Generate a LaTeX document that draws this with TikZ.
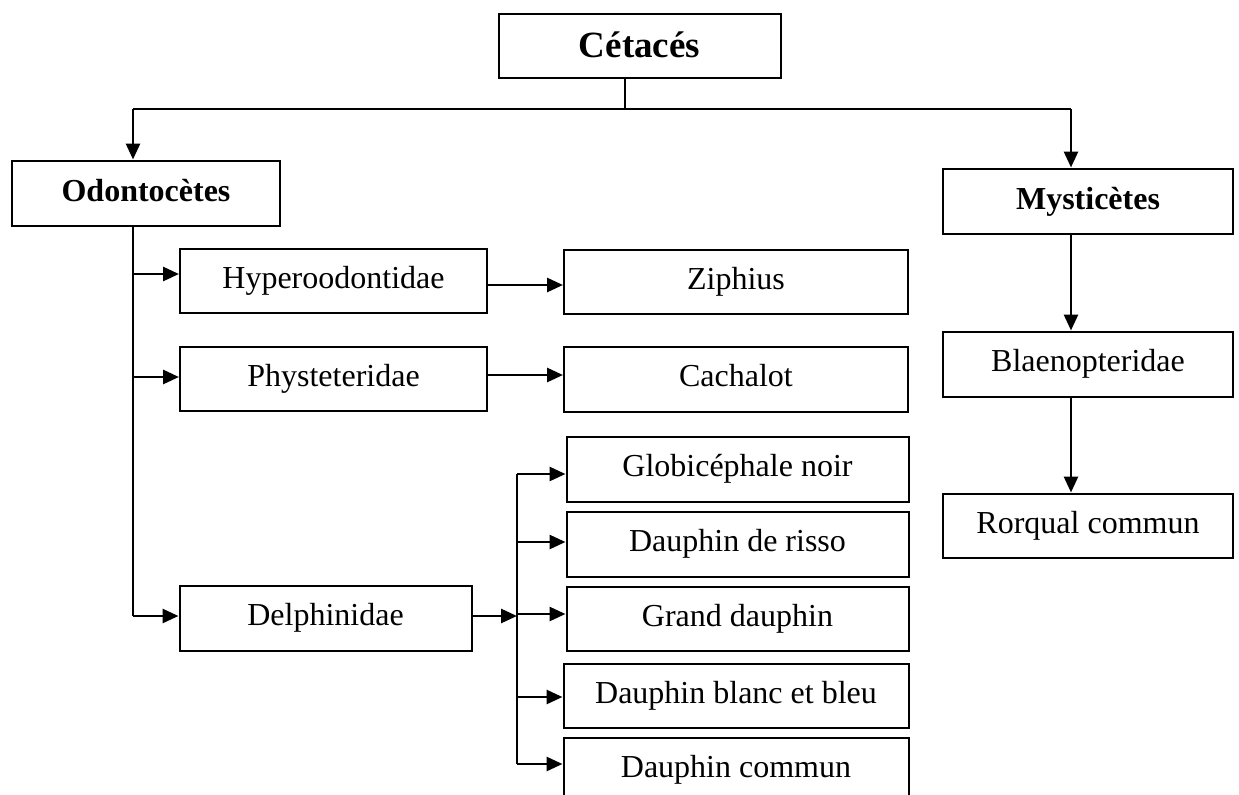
\documentclass[tikz,border=0pt]{standalone}
\usepackage{fontspec}
\setmainfont{Liberation Serif}
\usetikzlibrary{arrows.meta}
\begin{document}
\begin{tikzpicture}[x=0.5pt,y=-0.5pt,
  box/.style={draw, line width=1pt, inner sep=0pt, text height=10pt, text depth=2.5pt, font=\fontsize{16}{19}\selectfont},
  arr/.style={line width=1.4pt, -{Triangle[length=8pt,width=7pt]}},
  ln/.style={line width=1.4pt}]
\clip (0,0) rectangle (1239,794);
\fill[white] (0,0) rectangle (1239,794);
% boxes
\node[box, minimum width=141pt, minimum height=32pt, text height=13pt, text depth=1.5pt, font=\fontsize{18.5}{22}\selectfont\bfseries] (cet) at (639.5,45.5) {Cétacés};
\node[box, minimum width=134pt, minimum height=32.5pt, text height=10.5pt, text depth=2.5pt, font=\fontsize{16}{19}\selectfont\bfseries] (odo) at (146,193) {Odontocètes};
\node[box, minimum width=145pt, minimum height=32.5pt, text height=10.5pt, text depth=2.5pt, font=\fontsize{16}{19}\selectfont\bfseries] (mys) at (1088,201) {Mysticètes};
\node[box, minimum width=153.5pt, minimum height=32pt] (hyp) at (333.5,280.5) {Hyperoodontidae};
\node[box, minimum width=153.5pt, minimum height=32pt] (phy) at (333.5,378.5) {Physteteridae};
\node[box, minimum width=146pt, minimum height=32.5pt] (del) at (325.5,618) {Delphinidae};
\node[box, minimum width=172pt, minimum height=32pt] (zip) at (736,281.5) {Ziphius};
\node[box, minimum width=172pt, minimum height=32.5pt] (cac) at (736,379) {Cachalot};
\node[box, minimum width=171pt, minimum height=32.5pt] (glo) at (737.5,469) {Globicéphale noir};
\node[box, minimum width=171pt, minimum height=32.5pt] (ris) at (737.5,544) {Dauphin de risso};
\node[box, minimum width=171pt, minimum height=32pt] (gra) at (737.5,618.5) {Grand dauphin};
\node[box, minimum width=172.5pt, minimum height=32pt] (bb) at (736,695.5) {Dauphin blanc et bleu};
\node[box, minimum width=172.5pt, minimum height=32pt] (com) at (736,769.5) {Dauphin commun};
\node[box, minimum width=145pt, minimum height=32.5pt] (bla) at (1088,364) {Blaenopteridae};
\node[box, minimum width=145pt, minimum height=32pt] (ror) at (1088,525.5) {Rorqual commun};
% junction coordinates
\coordinate (jc) at (625,109);
\coordinate (jl) at (133,109);
\coordinate (jr) at (1071,109);
\coordinate (a1) at (133,274);
\coordinate (a2) at (133,377);
\coordinate (a3) at (133,616);
\coordinate (b1) at (488,285);
\coordinate (b2) at (488,375);
\coordinate (br) at (517,616);
\coordinate (c1) at (517,474);
\coordinate (c2) at (517,542);
\coordinate (c3) at (517,614);
\coordinate (c4) at (517,697);
\coordinate (c5) at (517,764);
% top level
\draw[ln] (jc |- cet.south) -- (jc);
\draw[ln] (jl) -- (jr);
\draw[arr] (jl) -- (jl |- odo.north);
\draw[arr] (jr) -- (jr |- mys.north);
% odontocetes trunk
\draw[ln] (odo.south -| a1) -- (a3);
\draw[arr] (a1) -- (a1 -| hyp.west);
\draw[arr] (a2) -- (a2 -| phy.west);
\draw[arr] (a3) -- (a3 -| del.west);
\draw[arr] (b1 -| hyp.east) -- (b1 -| zip.west);
\draw[arr] (b2 -| phy.east) -- (b2 -| cac.west);
% delphinidae branch
\draw[arr] (br -| del.east) -- (br);
\draw[ln] (c1) -- (c5);
\draw[arr] (c1) -- (c1 -| glo.west);
\draw[arr] (c2) -- (c2 -| ris.west);
\draw[arr] (c3) -- (c3 -| gra.west);
\draw[arr] (c4) -- (c4 -| bb.west);
\draw[arr] (c5) -- (c5 -| com.west);
% mysticetes
\draw[arr] (mys.south -| jr) -- (bla.north -| jr);
\draw[arr] (bla.south -| jr) -- (ror.north -| jr);
\end{tikzpicture}
\end{document}
